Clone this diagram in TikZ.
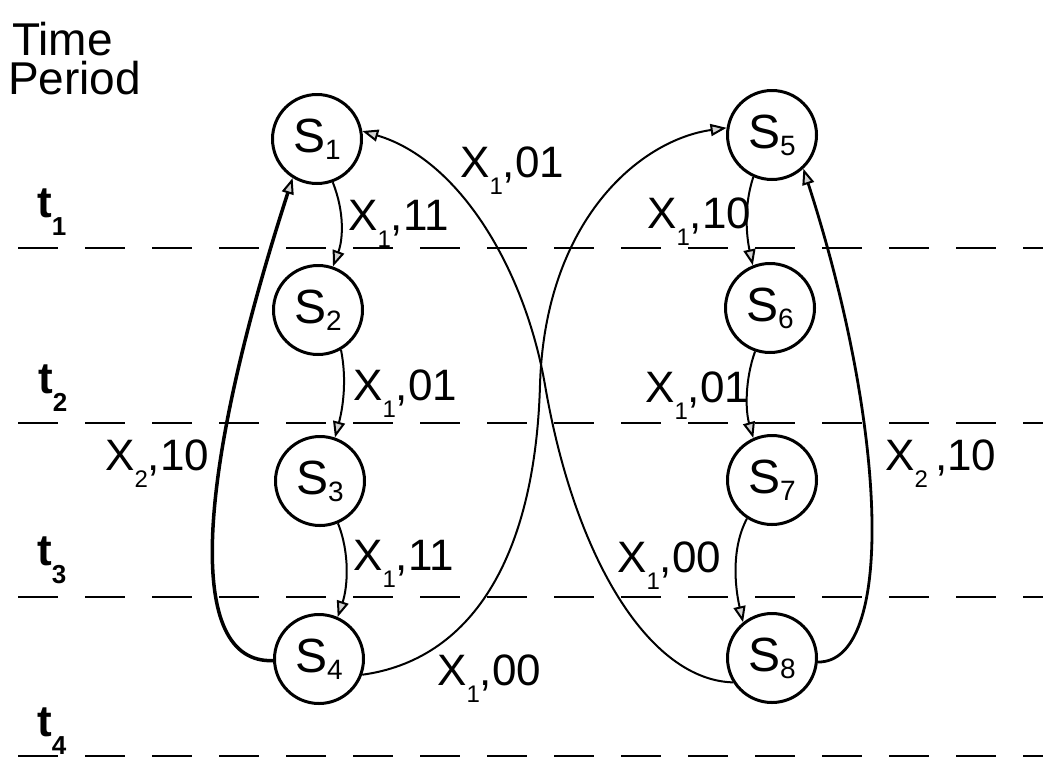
\documentclass[tikz,border=0pt]{standalone}
\usepackage{fontspec}
\setmainfont{Liberation Sans}
\usetikzlibrary{arrows.meta}
\newcommand\lowsub[3]{\raisebox{-#1}{\fontsize{#2}{#2}\selectfont #3}}
\newcommand\Ssb[1]{\lowsub{7pt}{28}{#1}}
\newcommand\Xsb[1]{\lowsub{17pt}{24}{#1}}
\newcommand\tsb[1]{\lowsub{18pt}{26}{#1}}
\begin{document}
\begin{tikzpicture}[x=1pt,y=-1pt,
  state/.style={circle,draw,line width=3pt,minimum size=89pt,inner sep=0pt,font=\fontsize{48}{48}\selectfont},
  lab/.style={inner sep=0pt,anchor=base west,font=\fontsize{44}{44}\selectfont},
  tlab/.style={inner sep=0pt,anchor=base west,font=\bfseries\fontsize{44}{44}\selectfont},
  head/.style={inner sep=0pt,anchor=base west,font=\fontsize{46}{46}\selectfont},
  tline/.style={line width=2.2pt,dash pattern=on 40pt off 27pt},
  conn/.style={line width=2pt,-{Triangle[length=16pt,width=12pt,fill=gray!35]}},
  loopc/.style={-{Triangle[length=16pt,width=12pt,fill=gray!35,line width=2pt]}},
]
\useasboundingbox (0,0) rectangle (1043,761);

% header
\node[head] (time) at (12,55) {Time};
\node[head] (period) at (8,94) {Period};

% time lines
\draw[tline] (18,248) -- (1043,248);
\draw[tline] (18,423) -- (1043,423);
\draw[tline] (18,597) -- (1043,597);
\draw[tline] (18,756) -- (1043,756);
\node[tlab] (t1) at (37,217) {t\tsb{1}};
\node[tlab] (t2) at (38,393) {t\tsb{2}};
\node[tlab] (t3) at (37,565) {t\tsb{3}};
\node[tlab] (t4) at (37,736) {t\tsb{4}};

% states
\node[state] (S1) at (317,139) {S\Ssb{1}};
\node[state] (S2) at (318,310) {S\Ssb{2}};
\node[state] (S3) at (320,481) {S\Ssb{3}};
\node[state] (S4) at (319,659) {S\Ssb{4}};
\node[state] (S5) at (772,135) {S\Ssb{5}};
\node[state] (S6) at (770,308) {S\Ssb{6}};
\node[state] (S7) at (772,480) {S\Ssb{7}};
\node[state] (S8) at (772,658) {S\Ssb{8}};

% vertical transitions
\draw[conn] (S1.-70) .. controls +(12,30) and +(10,-27) .. (S2.71);
\draw[conn] (S2.-60) .. controls +(6,30) and +(8,-30) .. (S3.71);
\draw[conn] (S3.-67) .. controls +(12,30) and +(10,-30) .. (S4.66);
\draw[conn] (S5.-114) .. controls +(-10,30) and +(-6,-28) .. (S6.112);
\draw[conn] (S6.-109) .. controls +(-10,28) and +(-8,-28) .. (S7.114);
\draw[conn] (S7.-123) .. controls +(-16,30) and +(-8,-35) .. (S8.129);

% loops back
\draw[loopc,line width=3.5pt] (S4.182) .. controls (185,664) and (195,480) .. (S1.-122);
\draw[loopc,line width=2.8pt] (S8.-5) .. controls (895,663) and (888,430) .. (S5.-47);

% crossing transitions
\draw[conn] (S4.-20) .. controls (470,660) and (535,560) .. (540,385)
            .. controls (545,220) and (640,140) .. (S5.171);
\draw[conn] (S8.-148) .. controls (650,680) and (575,560) .. (545,385)
            .. controls (525,270) and (460,160) .. (S1.10);

% labels
\node[lab] (l12) at (348,230) {X\Xsb{1},11};
\node[lab] (l23) at (353,400) {X\Xsb{1},01};
\node[lab] (l34) at (353,570) {X\Xsb{1},11};
\node[lab] (l41) at (105,470) {X\Xsb{2},10};
\node[lab] (l81) at (460,177) {X\Xsb{1},01};
\node[lab] (l45) at (437,685) {X\Xsb{1},00};
\node[lab] (l56) at (647,228) {X\Xsb{1},10};
\node[lab] (l67) at (645,402) {X\Xsb{1},01};
\node[lab] (l78) at (617,572) {X\Xsb{1},00};
\node[lab] (l85) at (885,470) {X\Xsb{2}\,,10};
\end{tikzpicture}
\end{document}
